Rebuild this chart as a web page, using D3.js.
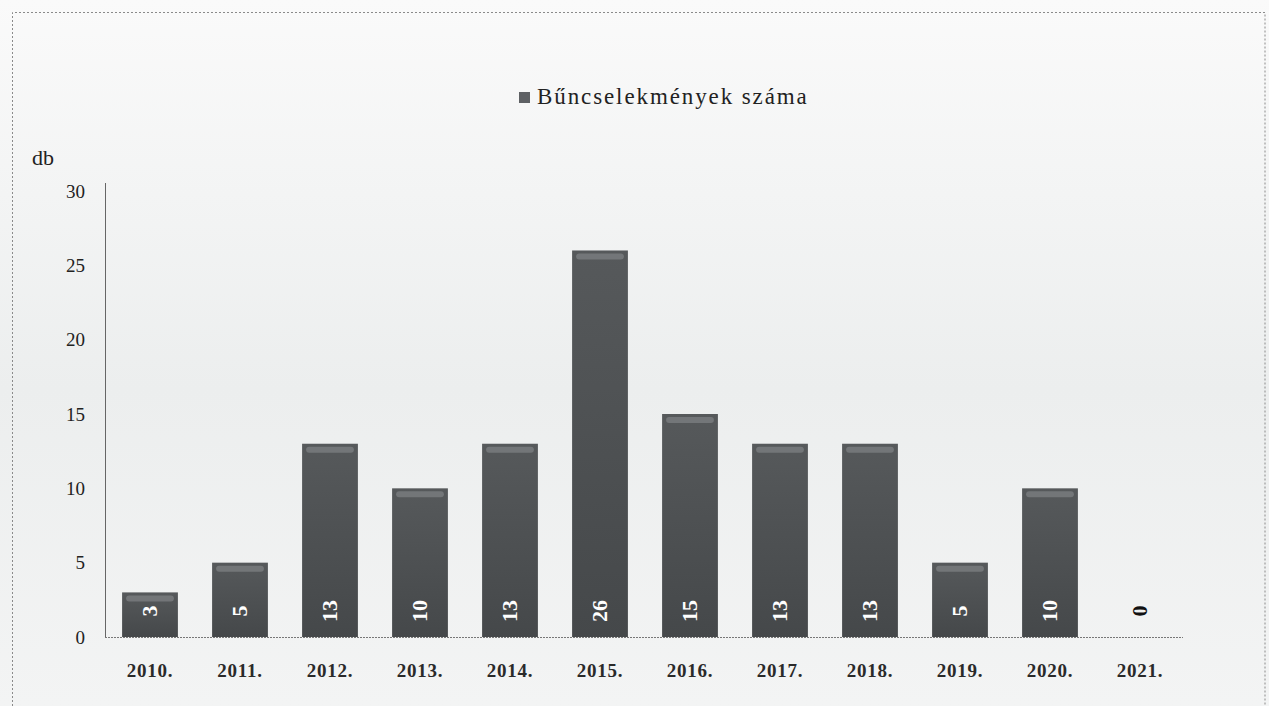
<!DOCTYPE html>
<html>
<head>
<meta charset="utf-8">
<script src="https://cdn.jsdelivr.net/npm/d3@7/dist/d3.min.js"></script>
<style>
  html, body { margin: 0; padding: 0; background: #fff; overflow: hidden; }
  svg { display: block; }
  .tick text { font-family: "Liberation Serif", "Times New Roman", serif; }
</style>
</head>
<body>
<div id="chart"></div>
<script>
// Data
const years = ['2010.', '2011.', '2012.', '2013.', '2014.', '2015.', '2016.', '2017.', '2018.', '2019.', '2020.', '2021.'];
const counts = [3, 5, 13, 10, 13, 26, 15, 13, 13, 5, 10, 0];
const yTicks = [0, 5, 10, 15, 20, 25, 30];
const seriesName = 'Bűncselekmények száma';

const width = 1269;
const height = 706;
const margin = { top: 191, right: 84, bottom: 69, left: 105 };
const innerWidth = width - margin.left - margin.right;
const innerHeight = height - margin.top - margin.bottom;

const svg = d3.select('#chart')
  .append('svg')
  .attr('width', width)
  .attr('height', height);

const defs = svg.append('defs');
const bg = defs.append('linearGradient')
  .attr('id', 'bg')
  .attr('x1', 0).attr('y1', 0).attr('x2', 0).attr('y2', 1);
bg.append('stop').attr('offset', '0%').attr('stop-color', '#fafafa');
bg.append('stop').attr('offset', '55%').attr('stop-color', '#eceeee');
bg.append('stop').attr('offset', '100%').attr('stop-color', '#f3f4f4');

const barGrad = defs.append('linearGradient')
  .attr('id', 'barGrad')
  .attr('x1', 0).attr('y1', 0).attr('x2', 0).attr('y2', 1);
barGrad.append('stop').attr('offset', '0%').attr('stop-color', '#56595b');
barGrad.append('stop').attr('offset', '100%').attr('stop-color', '#45484a');

// Background and dashed frame
svg.append('rect')
  .attr('x', 0).attr('y', 0)
  .attr('width', width).attr('height', height)
  .attr('fill', 'url(#bg)');

svg.append('path')
  .attr('d', `M12.5,${height}V12.5H${width - 4}V${height}`)
  .attr('fill', 'none')
  .attr('stroke', '#8a8a8a')
  .attr('stroke-dasharray', '2,2');

const g = svg.append('g')
  .attr('transform', `translate(${margin.left}, ${margin.top})`);

// Scales
const x = d3.scaleBand()
  .domain(years)
  .range([0, 1080])
  .paddingInner(0.38)
  .paddingOuter(0.19);

const y = d3.scaleLinear()
  .domain([0, 30])
  .range([innerHeight, 0]);

// Y axis
const yAxis = g.append('g')
  .call(d3.axisLeft(y).tickValues(yTicks).tickSize(0).tickPadding(20));
yAxis.select('.domain')
  .attr('stroke', '#666')
  .attr('d', `M0.5,-8V${innerHeight}`);
yAxis.selectAll('.tick text')
  .attr('font-size', 19)
  .attr('fill', '#222');

// X axis
const xAxis = g.append('g')
  .attr('transform', `translate(0, ${innerHeight})`)
  .call(d3.axisBottom(x).tickSize(0).tickPadding(27));
xAxis.select('.domain')
  .attr('stroke', '#777')
  .attr('stroke-dasharray', '2,1')
  .attr('d', 'M0,0.5H1078');
xAxis.selectAll('.tick text')
  .attr('font-size', 19)
  .attr('font-weight', 'bold')
  .attr('letter-spacing', 0.8)
  .attr('fill', '#2a2a2a');

// Bars
const bars = g.selectAll('.bar')
  .data(counts)
  .enter()
  .append('g')
  .attr('class', 'bar');

bars.append('rect')
  .attr('x', (d, i) => x(years[i]))
  .attr('y', (d) => y(d))
  .attr('width', x.bandwidth())
  .attr('height', (d) => innerHeight - y(d))
  .attr('fill', 'url(#barGrad)');

// soft top highlight
bars.filter((d) => d > 0)
  .append('rect')
  .attr('x', (d, i) => x(years[i]) + 4)
  .attr('y', (d) => y(d) + 3)
  .attr('width', x.bandwidth() - 8)
  .attr('height', 6)
  .attr('rx', 3)
  .attr('fill', '#7d8083')
  .attr('opacity', 0.75);

// Value labels, rotated
bars.append('text')
  .attr('transform', (d, i) => `translate(${x(years[i]) + x.bandwidth() / 2 + 7}, ${innerHeight - 26}) rotate(-90)`)
  .attr('text-anchor', 'middle')
  .attr('font-family', '"Liberation Serif", "Times New Roman", serif')
  .attr('font-size', 22)
  .attr('font-weight', 'bold')
  .attr('fill', (d) => d > 0 ? '#ffffff' : '#111111')
  .text((d) => d);

// Legend
const legend = svg.append('g')
  .attr('transform', 'translate(519, 92)');
legend.append('rect')
  .attr('width', 11).attr('height', 11)
  .attr('fill', '#5e6164');
legend.append('text')
  .attr('x', 18)
  .attr('y', 12)
  .attr('font-family', '"Liberation Serif", "Times New Roman", serif')
  .attr('font-size', 23)
  .attr('letter-spacing', 1.9)
  .attr('fill', '#222')
  .text(seriesName);

// Unit label
svg.append('text')
  .attr('x', 32)
  .attr('y', 165)
  .attr('font-family', '"Liberation Serif", "Times New Roman", serif')
  .attr('font-size', 22)
  .attr('fill', '#222')
  .text('db');
</script>
</body>
</html>
